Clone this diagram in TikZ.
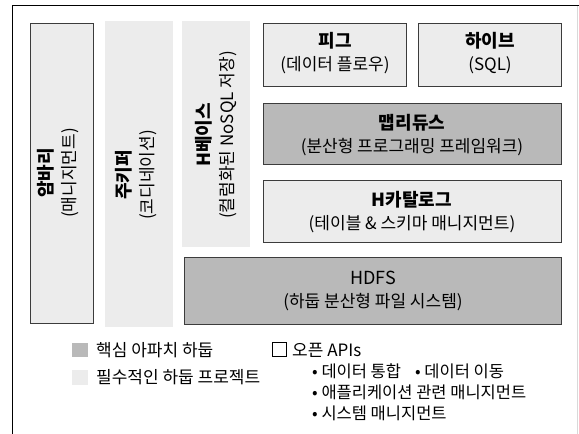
\documentclass[tikz,border=0pt]{standalone}
\usepackage{fontspec}
\setmainfont{Noto Sans CJK KR}
\definecolor{lightfill}{HTML}{ECECEC}
\definecolor{darkfill}{HTML}{B9B9B9}
\definecolor{edgecol}{HTML}{3C3C3C}
\newcommand{\ttl}[1]{{\fontsize{18}{23}\selectfont\textbf{#1}}}
\begin{document}
\begin{tikzpicture}[x=1pt,y=-1pt,
  lbox/.style={draw=edgecol,line width=1.3pt,fill=lightfill},
  dbox/.style={draw=edgecol,line width=1.3pt,fill=darkfill},
  pbox/.style={fill=lightfill},
  lbl/.style={align=center,font=\fontsize{17}{23}\selectfont,inner sep=0pt},
  vlbl/.style={lbl,rotate=90},
  leg/.style={anchor=west,font=\fontsize{17}{20}\selectfont,inner sep=0pt},
  bul/.style={anchor=west,font=\fontsize{16.5}{20}\selectfont,inner sep=0pt}]
\useasboundingbox (0,0) rectangle (579,434);
\fill[white] (0,0) rectangle (579,434);
% frame
\draw[black,line width=1.3pt] (12.5,434) -- (12.5,5.5) -- (579,5.5);
\draw[black!15,line width=0.8pt] (577.5,6) -- (577.5,434);
% boxes
\draw[lbox] (30.5,23.5) rectangle (93.5,323.5);
\fill[pbox] (105,21) rectangle (173,327);
\fill[pbox] (182,21) rectangle (250,247);
\draw[lbox] (263.5,23.5) rectangle (406.5,86.5);
\draw[lbox] (418.5,23.5) rectangle (561.5,86.5);
\draw[dbox] (263.5,103.5) rectangle (561.5,164.5);
\draw[lbox] (263.5,180.5) rectangle (561.5,242.5);
\draw[dbox] (184.5,257.5) rectangle (561.5,324.5);
% labels
\node[vlbl] (ambari) at (58,173) {\ttl{암바리}\\(매니지먼트)};
\node[vlbl] (zoo) at (136,175) {\ttl{주키퍼}\\(코디네이션)};
\node[vlbl] (hbase) at (216,135) {\ttl{H베이스}\\(컬럼화된 NoSQL 저장)};
\node[lbl] (pig) at (335,53) {\ttl{피그}\\(데이터 플로우)};
\node[lbl] (hive) at (490,53) {\ttl{하이브}\\(SQL)};
\node[lbl] (mr) at (412,135) {\ttl{맵리듀스}\\(분산형 프로그래밍 프레임워크)};
\node[lbl] (hcat) at (412,212) {\ttl{H카탈로그}\\(테이블 \& 스키마 매니지먼트)};
\node[lbl] (hdfs) at (373,291) {{\fontsize{18}{23}\selectfont HDFS}\\(하둡 분산형 파일 시스템)};
% legend
\fill[darkfill] (72,343) rectangle (88,357);
\node[leg] (l1) at (96,350) {핵심 아파치 하둡};
\fill[lightfill] (72,370) rectangle (88,385);
\node[leg] (l2) at (96,377) {필수적인 하둡 프로젝트};
\draw[black,line width=0.9pt] (272.5,342.5) rectangle (286.5,356.5);
\node[leg] (l3) at (292,350) {오픈 APIs};
\node[bul] (b1) at (312,371) {• 데이터 통합\hspace{14pt}• 데이터 이동};
\node[bul] (b2) at (312,392) {• 애플리케이션 관련 매니지먼트};
\node[bul] (b3) at (312,413) {• 시스템 매니지먼트};
\end{tikzpicture}
\end{document}
